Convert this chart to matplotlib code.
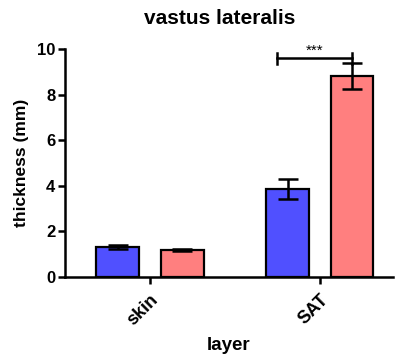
import matplotlib
matplotlib.use("Agg")
import matplotlib.pyplot as plt
import numpy as np

plt.rcParams['font.family'] = ['Liberation Sans', 'DejaVu Sans']
plt.rcParams['font.weight'] = 'bold'

# thickness per layer, two groups
layers = ["skin", "SAT"]
group_a_mean = [1.33, 3.86]
group_a_err = [0.08, 0.46]
group_b_mean = [1.18, 8.82]
group_b_err = [0.06, 0.57]
sig_label = "***"
sig_y = 9.6

blue = '#5050ff'
pink = '#ff7f7f'

fig = plt.figure(figsize=(3.96, 3.56), dpi=100)
ax = fig.add_axes([65 / 396, 1 - 277 / 356, 328 / 396, 228 / 356])

x = np.arange(len(layers))
off = 0.19
width = 0.25
err_kw = dict(ecolor='black', elinewidth=1.8, capsize=7.5, capthick=1.8)
ax.bar(x - off, group_a_mean, width, yerr=group_a_err, color=blue,
       edgecolor='black', linewidth=1.6, error_kw=err_kw, zorder=2)
ax.bar(x + off, group_b_mean, width, yerr=group_b_err, color=pink,
       edgecolor='black', linewidth=1.6, error_kw=err_kw, zorder=2)

# significance bracket over SAT
x0, x1 = 0.747, 1 + off
ax.plot([x0, x1], [sig_y, sig_y], color='black', lw=1.8, clip_on=False, zorder=3)
for xe in (x0, x1):
    ax.plot([xe, xe], [sig_y - 0.25, sig_y + 0.23], color='black', lw=1.8,
            clip_on=False, zorder=3)
ax.text((x0 + x1) / 2, sig_y + 0.02, sig_label, ha='center', va='bottom',
        fontsize=11, fontweight='normal')

ax.set_xlim(-0.5, 1.43)
ax.set_ylim(0, 10)
ax.set_yticks([0, 2, 4, 6, 8, 10])
ax.set_xticks(x)
ax.set_xticklabels(layers, rotation=45, ha='right', rotation_mode='anchor')

for s in ('top', 'right'):
    ax.spines[s].set_visible(False)
for s in ('left', 'bottom'):
    ax.spines[s].set_linewidth(1.8)
ax.tick_params(axis='both', width=1.8, length=5, labelsize=12, pad=2)
ax.tick_params(axis='x', labelsize=13, pad=5)

ax.set_ylabel("thickness (mm)", fontsize=12.5, fontweight='bold', labelpad=6)
ax.set_xlabel("layer", fontsize=13.5, fontweight='bold', labelpad=6)
fig.suptitle("vastus lateralis", x=0.555, y=0.975, fontsize=15, fontweight='bold')

fig.savefig("out.png", dpi=100)
